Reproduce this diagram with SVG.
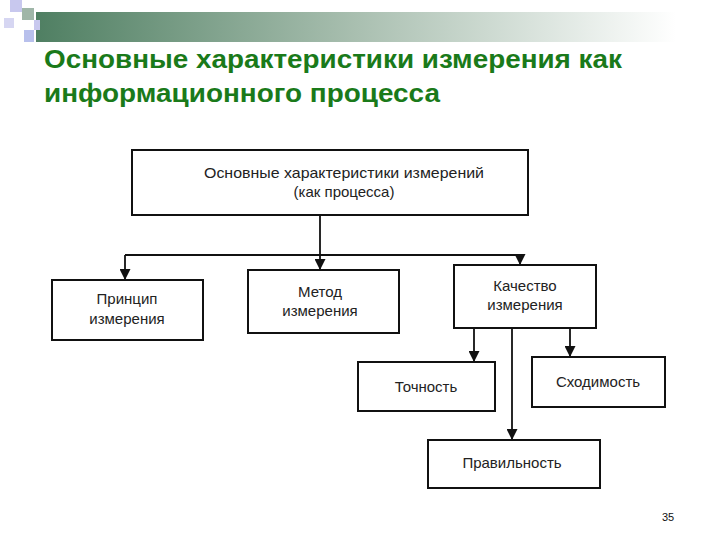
<svg xmlns="http://www.w3.org/2000/svg" width="720" height="540" viewBox="0 0 720 540">
<defs>
<linearGradient id="g" x1="0" x2="1" y1="0" y2="0">
<stop offset="0" stop-color="#4f7f62"/><stop offset="0.5" stop-color="#a9bfb0"/><stop offset="1" stop-color="#ffffff"/>
</linearGradient>
<marker id="a" viewBox="0 0 10 10" refX="10" refY="5" markerWidth="14" markerHeight="11" orient="auto" markerUnits="userSpaceOnUse">
<path d="M0,0 L10,5 L0,10 z" fill="#111"/>
</marker>
<style>
.b{fill:#fff;stroke:#111;stroke-width:2}
.t{font-family:"Liberation Sans",Arial,sans-serif;font-size:15px;fill:#222;text-anchor:middle}
.c{stroke:#111;stroke-width:1.8;fill:none}
</style>
</defs>
<rect width="720" height="540" fill="#fff"/>
<rect x="36" y="12" width="640" height="30" fill="url(#g)"/>
<rect x="10" y="0" width="12" height="12" fill="#c8c8ee"/>
<rect x="22" y="8" width="12" height="12" fill="#9fb6a8"/>
<rect x="4" y="18" width="10" height="10" fill="#d6d6f2"/>
<rect x="24" y="30" width="10" height="12" fill="#b8c0ec"/>
<rect x="34" y="20" width="6" height="10" fill="#c8c8ee"/>
<g font-family="Liberation Sans,Arial,sans-serif" font-weight="bold" font-size="26" fill="#1a7a1a">
<text x="44" y="68" textLength="578" lengthAdjust="spacingAndGlyphs">Основные характеристики измерения как</text>
<text x="44" y="102" textLength="396" lengthAdjust="spacingAndGlyphs">информационного процесса</text>
</g>
<g id="connectors">
<path class="c" d="M320,215 V255 M125,255 H520"/>
<path class="c" d="M125,255 V280" marker-end="url(#a)"/>
<path class="c" d="M320,255 V270" marker-end="url(#a)"/>
<path class="c" d="M520,255 V265" marker-end="url(#a)"/>
<path class="c" d="M474,328 V362" marker-end="url(#a)"/>
<path class="c" d="M570,328 V357" marker-end="url(#a)"/>
<path class="c" d="M512,328 V440" marker-end="url(#a)"/>
</g>
<g id="root"><rect class="b" x="132" y="150" width="396" height="65"/>
<text class="t" x="344" y="178" textLength="280" lengthAdjust="spacingAndGlyphs">Основные характеристики измерений</text>
<text class="t" x="344" y="197">(как процесса)</text></g>
<g id="principle"><rect class="b" x="52" y="280" width="151" height="60"/>
<text class="t" x="127" y="304">Принцип</text><text class="t" x="127" y="324">измерения</text></g>
<g id="method"><rect class="b" x="248" y="270" width="151" height="63"/>
<text class="t" x="320" y="297">Метод</text><text class="t" x="320" y="316">измерения</text></g>
<g id="quality"><rect class="b" x="454" y="265" width="142" height="63"/>
<text class="t" x="525" y="291">Качество</text><text class="t" x="525" y="310">измерения</text></g>
<g id="accuracy"><rect class="b" x="358" y="362" width="137" height="49"/>
<text class="t" x="426" y="392">Точность</text></g>
<g id="convergence"><rect class="b" x="532" y="357" width="133" height="50"/>
<text class="t" x="598" y="387">Сходимость</text></g>
<g id="correctness"><rect class="b" x="428" y="440" width="172" height="48"/>
<text class="t" x="512" y="468">Правильность</text></g>
<text x="668" y="521" font-family="Liberation Sans,Arial,sans-serif" font-size="11" text-anchor="middle" fill="#111">35</text>
</svg>
